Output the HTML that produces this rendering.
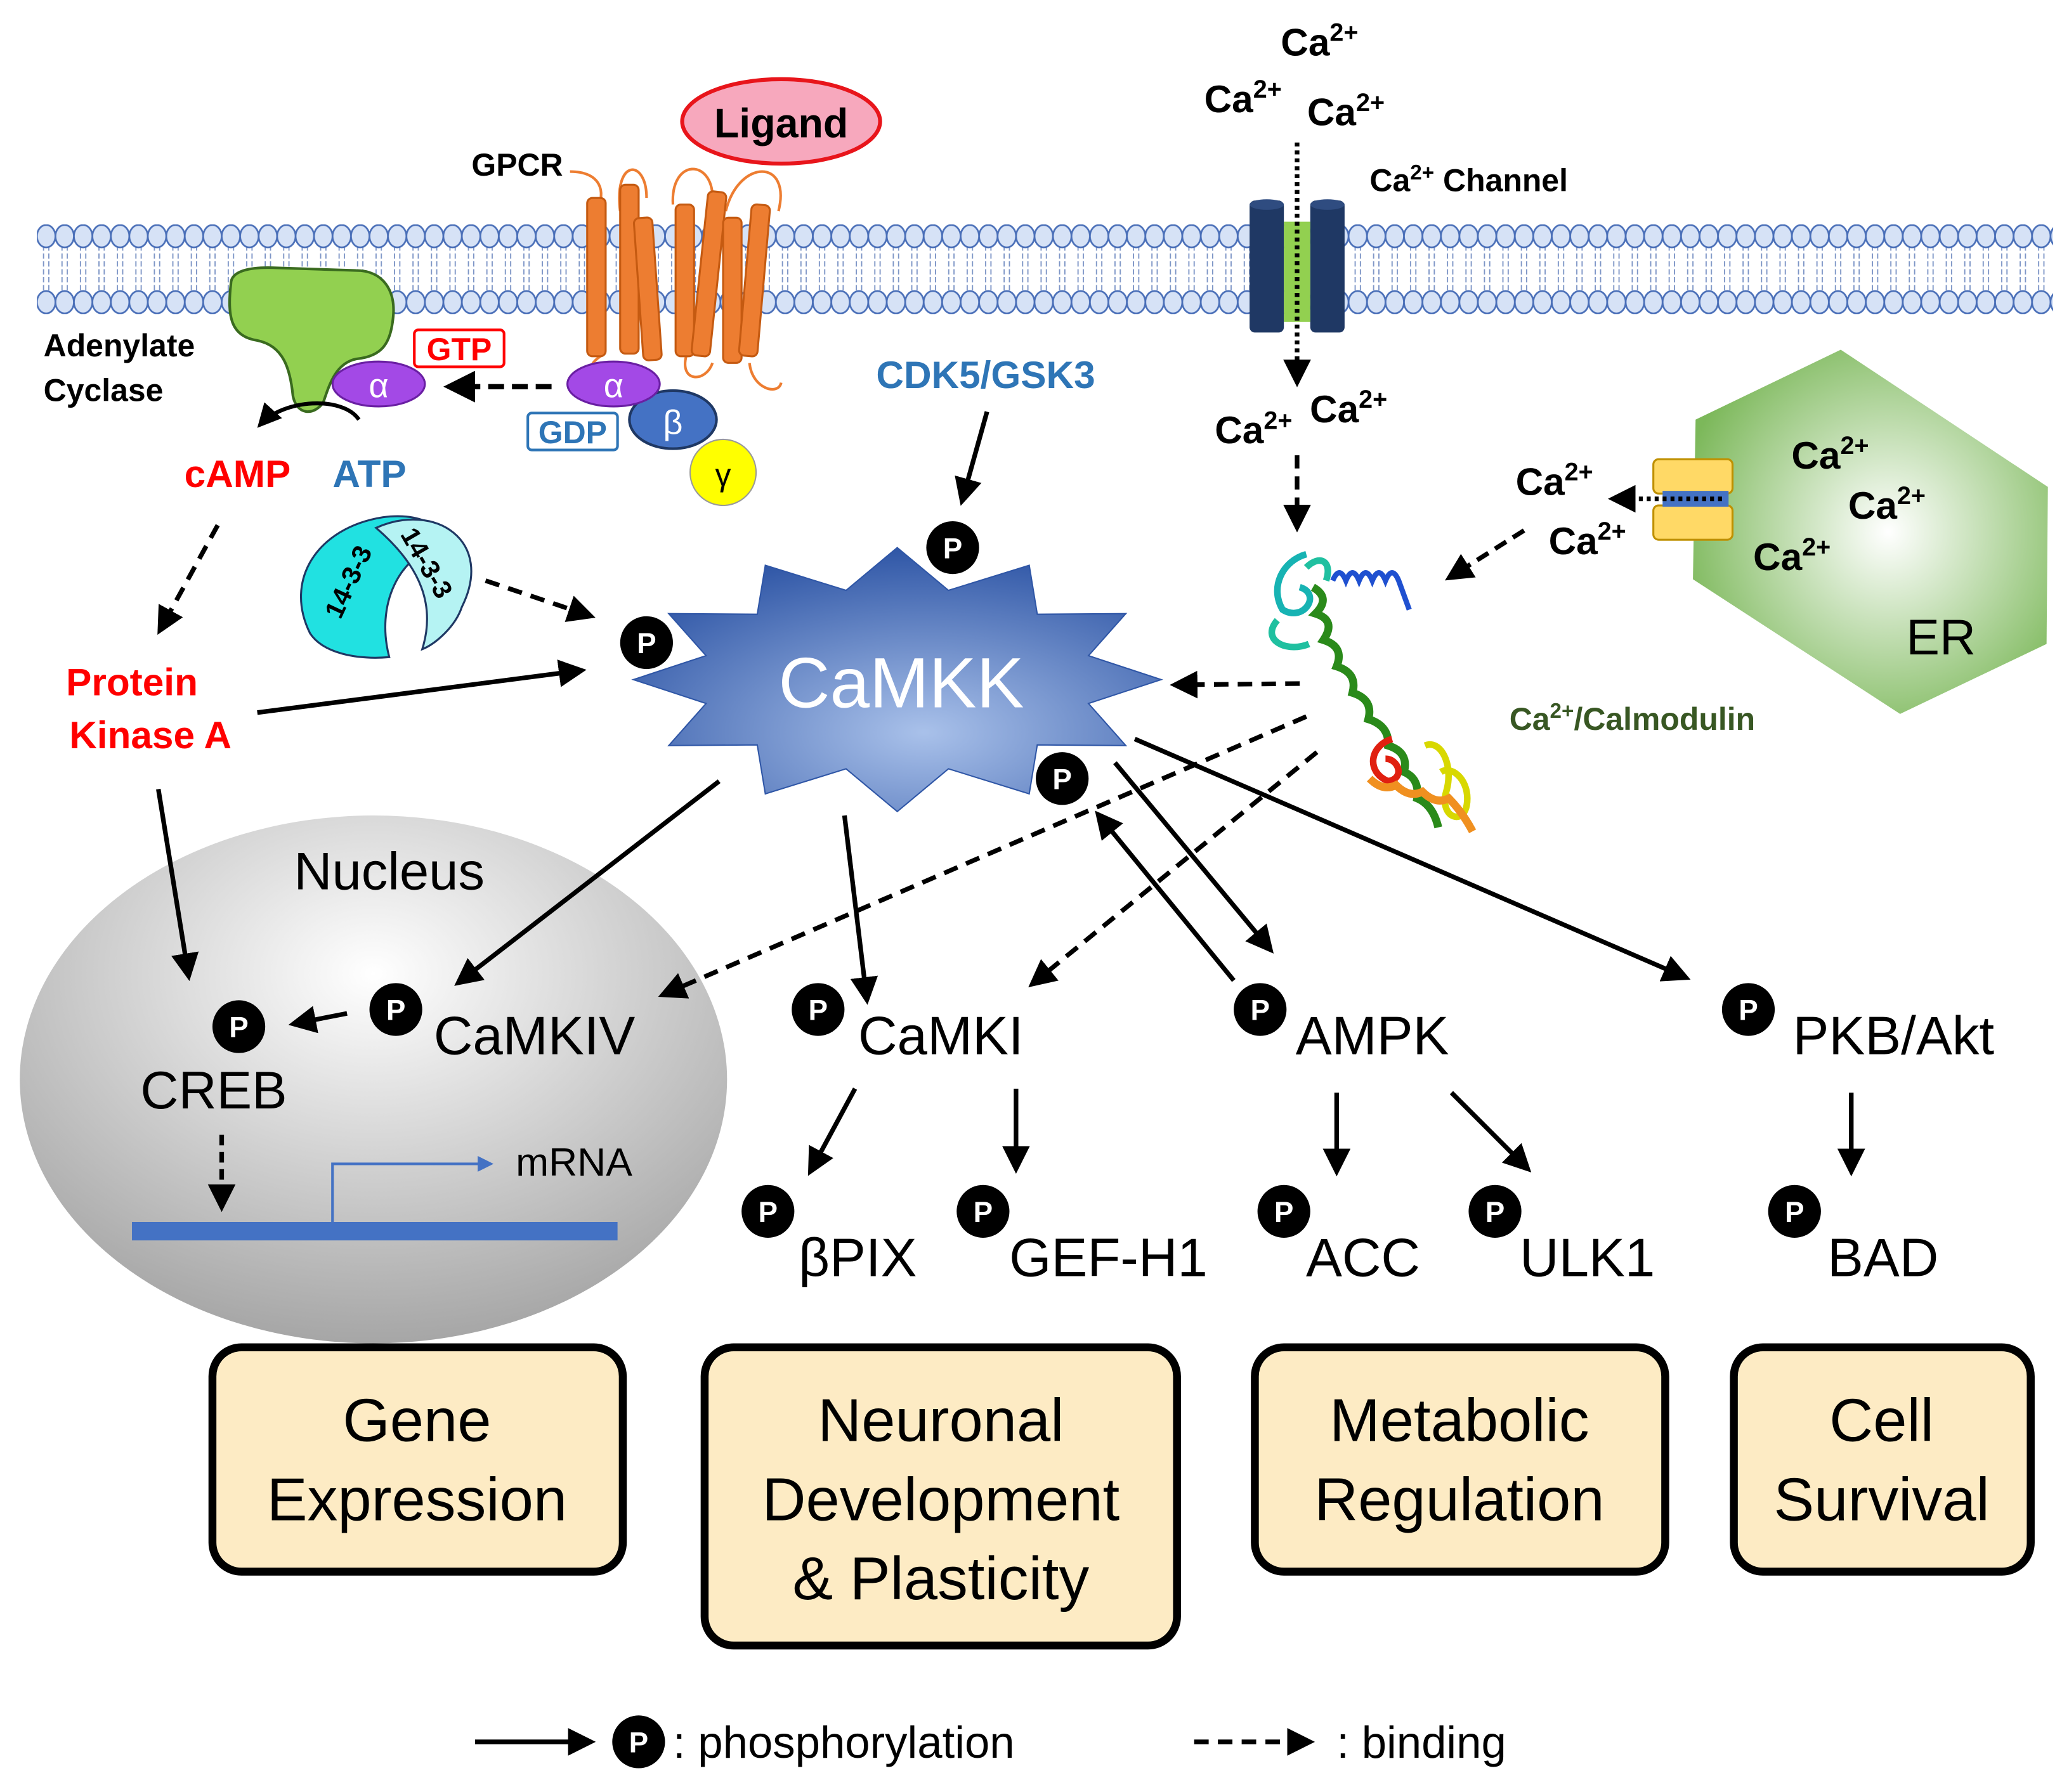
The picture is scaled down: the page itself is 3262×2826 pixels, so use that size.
<!DOCTYPE html>
<html><head><meta charset="utf-8"><style>
html,body{margin:0;padding:0;background:#fff}
svg{display:block}
text{font-family:"Liberation Sans",Arial,sans-serif}
</style></head><body>
<svg id="s" width="3262" height="2826" viewBox="0 0 1568 1358" preserveAspectRatio="none" xmlns="http://www.w3.org/2000/svg">
<defs>
<pattern id="mem" x="28" y="170" width="14" height="68" patternUnits="userSpaceOnUse">
<line x1="5" y1="16" x2="5" y2="50" stroke="#7d95c6" stroke-width="0.9" stroke-dasharray="4 2"/>
<line x1="9" y1="16" x2="9" y2="50" stroke="#7d95c6" stroke-width="0.9" stroke-dasharray="4 2"/>
<ellipse cx="7" cy="9" rx="7" ry="8.5" fill="#d6e2f6" stroke="#4a6fb8" stroke-width="1.3"/>
<ellipse cx="7" cy="59" rx="7" ry="8.5" fill="#d6e2f6" stroke="#4a6fb8" stroke-width="1.3"/>
</pattern>
<radialGradient id="star" cx="0.55" cy="0.7" r="0.7"><stop offset="0" stop-color="#a9c1ea"/><stop offset="1" stop-color="#2f56a6"/></radialGradient>
<radialGradient id="nuc" cx="0.5" cy="0.3" r="0.7"><stop offset="0" stop-color="#ffffff"/><stop offset="1" stop-color="#a6a6a6"/></radialGradient>
<radialGradient id="er" cx="0.55" cy="0.5" r="0.6"><stop offset="0" stop-color="#ffffff"/><stop offset="1" stop-color="#7cb85a"/></radialGradient>
<marker id="ah" markerWidth="6" markerHeight="6" refX="5" refY="3" orient="auto" markerUnits="strokeWidth"><path d="M0,0 L6,3 L0,6 z" fill="#000"/></marker>
<marker id="ahb" markerWidth="6" markerHeight="6" refX="5" refY="3" orient="auto" markerUnits="strokeWidth"><path d="M0,0 L6,3 L0,6 z" fill="#4472c4"/></marker>
</defs>

<rect x="28" y="170" width="1528" height="68" fill="url(#mem)"/>

<ellipse cx="592" cy="92" rx="75" ry="32" fill="#f7a8bd" stroke="#e8151b" stroke-width="3"/>
<text x="592" y="104" font-size="31" font-weight="bold" text-anchor="middle">Ligand</text>
<text x="392" y="133" font-size="24" font-weight="bold" text-anchor="middle">GPCR</text>

<g fill="#ed7d31" stroke="#c55a11" stroke-width="1.5">
<path d="M432,130 C455,130 460,145 452,160" fill="none" stroke="#ed7d31" stroke-width="2"/>
<path d="M470,160 C465,120 490,120 490,150" fill="none" stroke="#ed7d31" stroke-width="2"/>
<path d="M510,155 C508,120 540,120 540,150" fill="none" stroke="#ed7d31" stroke-width="2"/>
<path d="M550,160 C560,120 600,120 590,160" fill="none" stroke="#ed7d31" stroke-width="2"/>
<path d="M455,270 C440,280 450,292 460,290 M520,270 C515,290 535,290 540,275 M568,275 C570,295 590,300 592,290" fill="none" stroke="#ed7d31" stroke-width="2"/>
<rect x="445" y="150" width="14" height="120" rx="4"/>
<rect x="470" y="140" width="14" height="128" rx="4"/>
<rect x="484" y="165" width="14" height="108" rx="4" transform="rotate(-4 490 220)"/>
<rect x="512" y="155" width="14" height="115" rx="4"/>
<rect x="530" y="145" width="14" height="125" rx="4" transform="rotate(6 537 210)"/>
<rect x="548" y="165" width="14" height="110" rx="4"/>
<rect x="565" y="155" width="14" height="115" rx="4" transform="rotate(5 572 210)"/>
</g>

<path d="M175,215 C175,205 190,202 210,203 L270,205 C290,205 300,220 298,240 C296,260 290,270 270,272 C255,275 250,290 245,305 C238,315 225,315 222,300 C220,280 215,262 195,258 C175,255 172,240 175,215 z" fill="#92d050" stroke="#3a6b1f" stroke-width="2"/>
<text x="33" y="270" font-size="24" font-weight="bold">Adenylate</text>
<text x="33" y="304" font-size="24" font-weight="bold">Cyclase</text>
<rect x="314" y="250" width="68" height="28" rx="3" fill="#fff" stroke="#f00" stroke-width="2"/>
<text x="348" y="273" font-size="24" font-weight="bold" fill="#f00" text-anchor="middle">GTP</text>
<ellipse cx="287" cy="291" rx="35" ry="17" fill="#a349e6" stroke="#6a1fa3" stroke-width="1.5"/>
<text x="287" y="301" font-size="26" fill="#fff" text-anchor="middle">α</text>
<line x1="418" y1="293" x2="340" y2="293" stroke="#000" stroke-width="4" stroke-dasharray="12 6" marker-end="url(#ah)"/>
<circle cx="548" cy="358" r="25" fill="#ffff00" stroke="#999" stroke-width="1"/>
<text x="548" y="368" font-size="24" text-anchor="middle">γ</text>
<ellipse cx="510" cy="318" rx="33" ry="22" fill="#4472c4" stroke="#1f3864" stroke-width="2"/>
<text x="510" y="329" font-size="26" fill="#fff" text-anchor="middle">β</text>
<ellipse cx="465" cy="291" rx="35" ry="17" fill="#a349e6" stroke="#6a1fa3" stroke-width="1.5"/>
<text x="465" y="301" font-size="26" fill="#fff" text-anchor="middle">α</text>
<rect x="400" y="313" width="68" height="28" rx="3" fill="#fff" stroke="#2e75b6" stroke-width="2"/>
<text x="434" y="336" font-size="24" font-weight="bold" fill="#2e75b6" text-anchor="middle">GDP</text>
<path d="M272,318 C260,300 215,302 197,322" fill="none" stroke="#000" stroke-width="3" marker-end="url(#ah)"/>
<text x="180" y="369" font-size="29" font-weight="bold" fill="#f00" text-anchor="middle">cAMP</text>
<text x="280" y="369" font-size="29" font-weight="bold" fill="#2e75b6" text-anchor="middle">ATP</text>

<path d="M235,480 C215,440 240,400 290,392 C320,388 335,400 340,410 C300,420 285,460 295,498 C270,500 245,495 235,480 z" fill="#21e1e1" stroke="#1f3864" stroke-width="1.5"/>
<path d="M285,400 C330,380 375,410 350,460 C345,475 330,488 320,492 C330,460 320,430 285,400 z" fill="#b5f3f3" stroke="#1f3864" stroke-width="1.5"/>
<text x="258" y="470" font-size="20" font-weight="bold" transform="rotate(-65 258 470)">14-3-3</text>
<text x="303" y="405" font-size="20" font-weight="bold" transform="rotate(60 303 405)">14-3-3</text>

<text x="100" y="527" font-size="29" font-weight="bold" fill="#f00" text-anchor="middle">Protein</text>
<text x="114" y="567" font-size="29" font-weight="bold" fill="#f00" text-anchor="middle">Kinase A</text>
<text x="747" y="294" font-size="29" font-weight="bold" fill="#2e75b6" text-anchor="middle">CDK5/GSK3</text>

<polygon id="starp" fill="url(#star)" stroke="#2f56a6" stroke-width="1"/>
<text x="683" y="536" font-size="54" fill="#fff" text-anchor="middle">CaMKK</text>

<rect x="947" y="152" width="26" height="100" rx="4" fill="#1f3864"/>
<rect x="993" y="152" width="26" height="100" rx="4" fill="#1f3864"/>
<ellipse cx="960" cy="155" rx="13" ry="4" fill="#2f4c80"/>
<ellipse cx="1006" cy="155" rx="13" ry="4" fill="#2f4c80"/>
<rect x="973" y="168" width="20" height="76" fill="#92d050"/>
<line x1="983" y1="108" x2="983" y2="290" stroke="#000" stroke-width="3.5" stroke-dasharray="3 3" marker-end="url(#ah)"/>
<text x="1000" y="42" font-size="29" font-weight="bold" text-anchor="middle">Ca<tspan dy="-11" font-size="19">2+</tspan></text>
<text x="942" y="85" font-size="29" font-weight="bold" text-anchor="middle">Ca<tspan dy="-11" font-size="19">2+</tspan></text>
<text x="1020" y="95" font-size="29" font-weight="bold" text-anchor="middle">Ca<tspan dy="-11" font-size="19">2+</tspan></text>
<text x="1038" y="145" font-size="24" font-weight="bold">Ca<tspan dy="-9" font-size="16">2+</tspan><tspan dy="9"> Channel</tspan></text>
<text x="950" y="336" font-size="29" font-weight="bold" text-anchor="middle">Ca<tspan dy="-11" font-size="19">2+</tspan></text>
<text x="1022" y="320" font-size="29" font-weight="bold" text-anchor="middle">Ca<tspan dy="-11" font-size="19">2+</tspan></text>
<line x1="983" y1="345" x2="983" y2="400" stroke="#000" stroke-width="3.5" stroke-dasharray="10 6" marker-end="url(#ah)"/>

<polygon points="1285,318 1395,265 1552,369 1551,488 1440,541 1283,439" fill="url(#er)"/>
<text x="1387" y="355" font-size="29" font-weight="bold" text-anchor="middle">Ca<tspan dy="-11" font-size="19">2+</tspan></text>
<text x="1430" y="393" font-size="29" font-weight="bold" text-anchor="middle">Ca<tspan dy="-11" font-size="19">2+</tspan></text>
<text x="1358" y="432" font-size="29" font-weight="bold" text-anchor="middle">Ca<tspan dy="-11" font-size="19">2+</tspan></text>
<text x="1471" y="496" font-size="38" text-anchor="middle">ER</text>
<rect x="1253" y="348" width="60" height="26" rx="4" fill="#ffd966" stroke="#bf9000" stroke-width="1.5"/>
<rect x="1253" y="383" width="60" height="26" rx="4" fill="#ffd966" stroke="#bf9000" stroke-width="1.5"/>
<rect x="1260" y="372" width="50" height="12" fill="#4472c4"/>
<line x1="1305" y1="378" x2="1222" y2="378" stroke="#000" stroke-width="3.5" stroke-dasharray="3 3" marker-end="url(#ah)"/>
<text x="1178" y="375" font-size="29" font-weight="bold" text-anchor="middle">Ca<tspan dy="-11" font-size="19">2+</tspan></text>
<text x="1203" y="420" font-size="29" font-weight="bold" text-anchor="middle">Ca<tspan dy="-11" font-size="19">2+</tspan></text>
<line x1="1155" y1="402" x2="1098" y2="438" stroke="#000" stroke-width="3.5" stroke-dasharray="10 6" marker-end="url(#ah)"/>

<g fill="none" stroke-width="5">
<path d="M990,420 C972,425 962,445 972,462 C988,472 1002,450 985,445" stroke="#17b3b3"/>
<path d="M990,430 C1000,420 1010,425 1005,440 M968,470 C955,485 975,495 992,488" stroke="#20c0a0"/>
<path d="M1010,440 q5,-12 10,0 q5,-12 10,0 q5,-12 10,0 q5,-12 10,0 q5,-12 10,0 l8,22" stroke="#1f50d0" stroke-width="4"/>
<path d="M995,445 q14,8 2,20 q16,5 6,20 q16,5 10,20 q16,5 12,20 q16,5 12,20 q16,5 15,20 q16,5 12,20 q12,5 10,20 q12,5 16,22" stroke="#2a8a1a" stroke-width="6"/>
<path d="M1080,565 C1092,560 1102,580 1096,600 C1090,620 1112,628 1112,605 C1112,590 1100,580 1092,585" stroke="#d8d800"/>
<path d="M1055,560 C1038,565 1035,585 1052,592 C1065,590 1060,575 1050,575" stroke="#e02010"/>
<path d="M1038,590 q10,10 20,5 q10,10 20,5 q10,10 20,5 q10,10 18,25" stroke="#f09020" stroke-width="6"/>
</g>
<text x="1237" y="553" font-size="24" font-weight="bold" fill="#385723" text-anchor="middle">Ca<tspan dy="-9" font-size="16">2+</tspan><tspan dy="9">/Calmodulin</tspan></text>

<ellipse cx="283" cy="818" rx="268" ry="200" fill="url(#nuc)"/>
<text x="295" y="674" font-size="40" text-anchor="middle">Nucleus</text>
<text x="162" y="840" font-size="40" text-anchor="middle">CREB</text>
<text x="405" y="799" font-size="41" text-anchor="middle">CaMKIV</text>
<rect x="100" y="926" width="368" height="14" fill="#4472c4"/>
<path d="M252,926 L252,882 L372,882" fill="none" stroke="#4472c4" stroke-width="2" marker-end="url(#ahb)"/>
<text x="435" y="891" font-size="30" text-anchor="middle">mRNA</text>
<line x1="168" y1="860" x2="168" y2="915" stroke="#000" stroke-width="3.5" stroke-dasharray="8 5" marker-end="url(#ah)"/>

<text x="713" y="799" font-size="41" text-anchor="middle">CaMKI</text>
<text x="1040" y="799" font-size="41" text-anchor="middle">AMPK</text>
<text x="1435" y="799" font-size="41" text-anchor="middle">PKB/Akt</text>
<text x="650" y="967" font-size="41" text-anchor="middle">βPIX</text>
<text x="840" y="967" font-size="41" text-anchor="middle">GEF-H1</text>
<text x="1033" y="967" font-size="41" text-anchor="middle">ACC</text>
<text x="1203" y="967" font-size="41" text-anchor="middle">ULK1</text>
<text x="1427" y="967" font-size="41" text-anchor="middle">BAD</text>

<g id="ps"></g>

<g stroke="#000" stroke-width="3.5" fill="none">
<line x1="748" y1="312" x2="729" y2="380" marker-end="url(#ah)"/>
<line x1="195" y1="540" x2="441" y2="508" marker-end="url(#ah)"/>
<line x1="120" y1="598" x2="143" y2="740" marker-end="url(#ah)"/>
<line x1="545" y1="592" x2="347" y2="745" marker-end="url(#ah)"/>
<line x1="640" y1="618" x2="657" y2="758" marker-end="url(#ah)"/>
<line x1="845" y1="578" x2="963" y2="720" marker-end="url(#ah)"/>
<line x1="935" y1="743" x2="832" y2="617" marker-end="url(#ah)"/>
<line x1="860" y1="560" x2="1278" y2="741" marker-end="url(#ah)"/>
<line x1="263" y1="768" x2="222" y2="776" marker-end="url(#ah)"/>
<line x1="648" y1="825" x2="614" y2="888" marker-end="url(#ah)"/>
<line x1="770" y1="825" x2="770" y2="886" marker-end="url(#ah)"/>
<line x1="1013" y1="828" x2="1013" y2="888" marker-end="url(#ah)"/>
<line x1="1100" y1="828" x2="1158" y2="886" marker-end="url(#ah)"/>
<line x1="1403" y1="828" x2="1403" y2="888" marker-end="url(#ah)"/>
<g stroke-dasharray="11 7">
<line x1="368" y1="440" x2="448" y2="467" marker-end="url(#ah)"/>
<line x1="165" y1="398" x2="121" y2="478" marker-end="url(#ah)"/>
<line x1="985" y1="518" x2="890" y2="519" marker-end="url(#ah)"/>
<line x1="990" y1="543" x2="502" y2="754" marker-end="url(#ah)"/>
<line x1="998" y1="570" x2="782" y2="746" marker-end="url(#ah)"/>
</g>
</g>

<g fill="#fdebc4" stroke="#000" stroke-width="6">
<rect x="161" y="1021" width="311" height="170" rx="22"/>
<rect x="534" y="1021" width="358" height="226" rx="22"/>
<rect x="951" y="1021" width="311" height="170" rx="22"/>
<rect x="1314" y="1021" width="225" height="170" rx="22"/>
</g>
<g font-size="46" text-anchor="middle">
<text x="316" y="1092">Gene</text><text x="316" y="1152">Expression</text>
<text x="713" y="1092">Neuronal</text><text x="713" y="1152">Development</text><text x="713" y="1212">&amp; Plasticity</text>
<text x="1106" y="1092">Metabolic</text><text x="1106" y="1152">Regulation</text>
<text x="1426" y="1092">Cell</text><text x="1426" y="1152">Survival</text>
</g>

<line x1="360" y1="1320" x2="448" y2="1320" stroke="#000" stroke-width="3.5" marker-end="url(#ah)"/>
<text x="510" y="1332" font-size="34">: phosphorylation</text>
<line x1="905" y1="1320" x2="993" y2="1320" stroke="#000" stroke-width="3.5" stroke-dasharray="11 7" marker-end="url(#ah)"/>
<text x="1013" y="1332" font-size="34">: binding</text>
</svg>
<script>
var NS="http://www.w3.org/2000/svg";
var pts=[],cx=680,cy=515,n=12;
for(var i=0;i<2*n;i++){var a=Math.PI*i/n - Math.PI/2;var o=i%2==0;var rx=o?200:150,ry=o?100:70;pts.push((cx+rx*Math.cos(a)).toFixed(1)+","+(cy+ry*Math.sin(a)).toFixed(1));}
document.getElementById("starp").setAttribute("points",pts.join(" "));
var P=[[722,415],[490,487],[805,590],[181,778],[300,765],[620,765],[955,765],[1325,765],[582,918],[745,918],[973,918],[1133,918],[1360,918],[484,1320]];
var g=document.getElementById("ps");
P.forEach(function(p){var c=document.createElementNS(NS,"circle");c.setAttribute("cx",p[0]);c.setAttribute("cy",p[1]);c.setAttribute("r",20);c.setAttribute("fill","#000");g.appendChild(c);
var t=document.createElementNS(NS,"text");t.setAttribute("x",p[0]);t.setAttribute("y",p[1]+8);t.setAttribute("font-size","22");t.setAttribute("font-weight","bold");t.setAttribute("fill","#fff");t.setAttribute("text-anchor","middle");t.textContent="P";g.appendChild(t);});
</script>
</body></html>
